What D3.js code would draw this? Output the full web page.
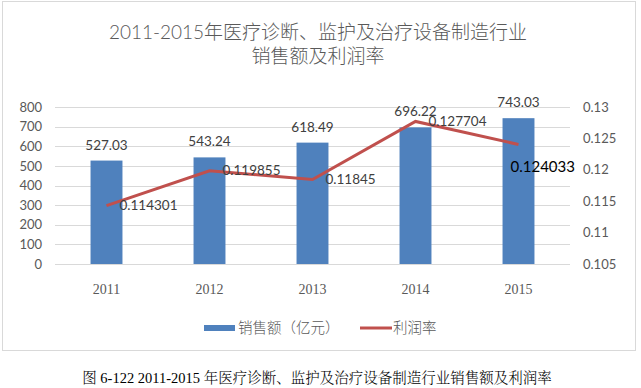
<!DOCTYPE html>
<html>
<head>
<meta charset="utf-8">
<script src="https://cdn.jsdelivr.net/npm/d3@7.9.0/dist/d3.min.js"></script>
<style>
  html, body { margin: 0; padding: 0; background: #fff; }
  svg { display: block; }
</style>
</head>
<body>
<div id="chart"></div>
<script>
const years = ['2011', '2012', '2013', '2014', '2015'];
const sales = [527.03, 543.24, 618.49, 696.22, 743.03];
const profitRate = [0.114301, 0.119855, 0.11845, 0.127704, 0.124033];
const leftTicks = [0, 100, 200, 300, 400, 500, 600, 700, 800];
const rightTicks = [0.105, 0.11, 0.115, 0.12, 0.125, 0.13];
const titleLines = ['2011-2015年医疗诊断、监护及治疗设备制造行业', '销售额及利润率'];
const legendLabels = ['销售额（亿元）', '利润率'];
const caption = '图 6-122 2011-2015 年医疗诊断、监护及治疗设备制造行业销售额及利润率';

const width = 641;
const height = 388;
const margin = { top: 107, right: 71, bottom: 124, left: 55 };
const sans = 'Lato, "Noto Sans CJK SC", sans-serif';
const grey = '#595959';

const svg = d3.select('#chart')
  .append('svg')
  .attr('width', width)
  .attr('height', height);

// frame
svg.append('rect')
  .attr('x', 2.5).attr('y', 1.5)
  .attr('width', 633).attr('height', 349)
  .attr('fill', '#fff')
  .attr('stroke', '#d9d9d9');

// title
svg.append('g').selectAll('text')
  .data(titleLines)
  .join('text')
  .attr('x', 318)
  .attr('y', (d, i) => 39 + i * 24)
  .attr('text-anchor', 'middle')
  .attr('font-family', sans)
  .attr('font-size', 19)
  .attr('font-weight', 300)
  .attr('fill', grey)
  .text((d) => d);

const x = d3.scaleBand()
  .domain(years)
  .range([margin.left, width - margin.right])
  .paddingInner(0.69)
  .paddingOuter(0.345);

const y = d3.scaleLinear()
  .domain([0, 800])
  .range([264, margin.top]);

const yR = d3.scaleLinear()
  .domain([0.105, 0.13])
  .range([264, margin.top]);

// gridlines
svg.append('g')
  .selectAll('line')
  .data(leftTicks)
  .join('line')
  .attr('x1', x.range()[0])
  .attr('x2', x.range()[1])
  .attr('y1', (d) => Math.round(y(d)) + 0.5)
  .attr('y2', (d) => Math.round(y(d)) + 0.5)
  .attr('stroke', '#d9d9d9');

// left axis
const yAxis = d3.axisLeft(y).tickValues(leftTicks).tickSize(0).tickPadding(0);
svg.append('g')
  .attr('transform', 'translate(42,0)')
  .call(yAxis)
  .call((g) => g.select('.domain').remove())
  .selectAll('text')
  .attr('font-family', sans)
  .attr('font-size', 13)
  .attr('fill', grey);

// right axis
const yAxisR = d3.axisRight(yR).tickValues(rightTicks).tickSize(0).tickPadding(0)
  .tickFormat((d) => String(+d.toFixed(3)));
svg.append('g')
  .attr('transform', 'translate(583,0)')
  .call(yAxisR)
  .call((g) => g.select('.domain').remove())
  .selectAll('text')
  .attr('font-family', sans)
  .attr('font-size', 13)
  .attr('fill', grey);

// x axis labels
const xAxis = d3.axisBottom(x).tickSize(0).tickPadding(0);
svg.append('g')
  .attr('transform', 'translate(0,284)')
  .call(xAxis)
  .call((g) => g.select('.domain').remove())
  .selectAll('text')
  .attr('font-family', '"Liberation Serif", serif')
  .attr('font-size', 14)
  .attr('fill', grey);

// bars
svg.append('g')
  .selectAll('rect')
  .data(sales)
  .join('rect')
  .attr('x', (d, i) => x(years[i]))
  .attr('y', (d) => y(d))
  .attr('width', x.bandwidth())
  .attr('height', (d) => y(0) - y(d))
  .attr('fill', '#4f81bd');

// bar labels
svg.append('g')
  .selectAll('text')
  .data(sales)
  .join('text')
  .attr('x', (d, i) => x(years[i]) + x.bandwidth() / 2)
  .attr('y', (d) => y(d) - 11)
  .attr('text-anchor', 'middle')
  .attr('font-family', sans)
  .attr('font-size', 13.5)
  .attr('fill', '#404040')
  .text((d) => d.toFixed(2));

// line
const cx = (i) => x(years[i]) + x.bandwidth() / 2;
const line = d3.line()
  .x((d, i) => cx(i))
  .y((d) => yR(d));

svg.append('path')
  .datum(profitRate)
  .attr('d', line)
  .attr('fill', 'none')
  .attr('stroke', '#c0504d')
  .attr('stroke-width', 3);

// line labels
svg.append('g')
  .selectAll('text')
  .data(profitRate)
  .join('text')
  .attr('x', (d, i) => (i === 4 ? cx(i) - 8 : cx(i) + 13))
  .attr('y', (d, i) => (i === 4 ? yR(d) + 22 : yR(d)))
  .attr('dy', '0.35em')
  .attr('font-family', sans)
  .attr('font-size', (d, i) => (i === 4 ? 15 : 13.5))
  .attr('fill', (d, i) => (i === 4 ? '#000' : '#404040'))
  .text((d) => String(d));

// legend
const legend = svg.append('g').attr('font-family', sans).attr('font-size', 14.5)
  .attr('font-weight', 300).attr('fill', grey);
legend.append('rect')
  .attr('x', 204).attr('y', 325)
  .attr('width', 31).attr('height', 6)
  .attr('fill', '#4f81bd');
legend.append('text')
  .attr('x', 238).attr('y', 328).attr('dy', '0.35em')
  .text(legendLabels[0]);
legend.append('line')
  .attr('x1', 360).attr('x2', 392)
  .attr('y1', 328).attr('y2', 328)
  .attr('stroke', '#c0504d')
  .attr('stroke-width', 3);
legend.append('text')
  .attr('x', 393).attr('y', 328).attr('dy', '0.35em')
  .text(legendLabels[1]);

// caption
svg.append('text')
  .attr('x', 317)
  .attr('y', 378)
  .attr('dy', '0.35em')
  .attr('text-anchor', 'middle')
  .attr('font-family', '"Liberation Serif", "Noto Serif CJK SC", "Noto Sans CJK SC", serif')
  .attr('font-size', 14.5)
  .attr('font-weight', 300)
  .attr('fill', '#000')
  .text(caption);
</script>
</body>
</html>
